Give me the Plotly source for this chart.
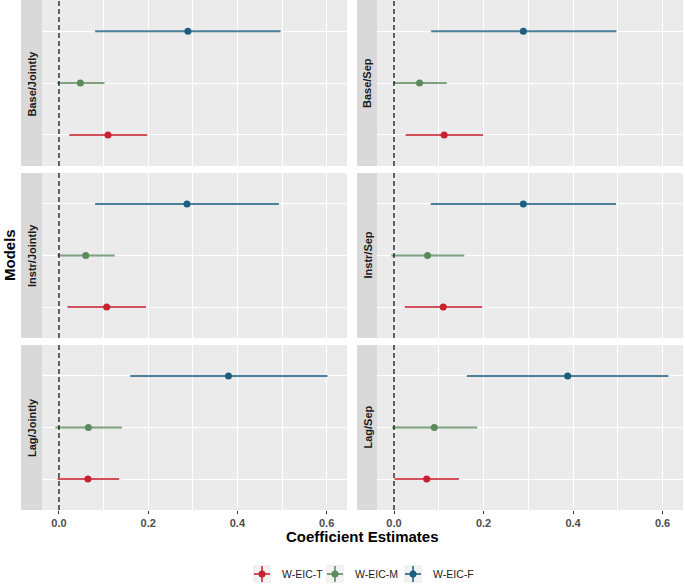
import plotly.graph_objects as go

# ---------------- data ----------------
panels = ["Base/Jointly", "Base/Sep", "Instr/Jointly", "Instr/Sep", "Lag/Jointly", "Lag/Sep"]
series = ["W-EIC-T", "W-EIC-M", "W-EIC-F"]
series_level = [1, 2, 3]

est_T = [0.110, 0.112, 0.107, 0.110, 0.065, 0.073]
lo_T = [0.023, 0.026, 0.019, 0.024, -0.003, 0.001]
hi_T = [0.198, 0.199, 0.195, 0.197, 0.135, 0.145]

est_M = [0.048, 0.057, 0.060, 0.075, 0.066, 0.090]
lo_M = [-0.004, -0.002, -0.003, -0.006, -0.008, -0.004]
hi_M = [0.102, 0.118, 0.125, 0.157, 0.141, 0.186]

est_F = [0.289, 0.289, 0.287, 0.289, 0.380, 0.388]
lo_F = [0.081, 0.083, 0.081, 0.082, 0.160, 0.163]
hi_F = [0.497, 0.497, 0.493, 0.496, 0.602, 0.613]

x_ticks = [0.0, 0.2, 0.4, 0.6]
x_tick_labels = ["0.0", "0.2", "0.4", "0.6"]

# ---------------- style ----------------
W, H = 685, 586
colors = ["#C8202F", "#5B8A5B", "#1B5E82"]
line_colors = ["rgba(200,32,47,0.78)", "rgba(91,138,91,0.78)", "rgba(27,94,130,0.78)"]
FONT = "Liberation Sans, Arial, sans-serif"

est_all = [est_T, est_M, est_F]
lo_all = [lo_T, lo_M, lo_F]
hi_all = [hi_T, hi_M, hi_F]

col_px = [(42, 347), (377, 683)]
strip_px = [(21, 42), (357, 377)]
row_px = [(0, 166), (173, 338), (345, 510)]

def px_x(p):
    return p / W

def px_y(p):
    return 1 - p / H

fig = go.Figure()
shapes = []
annotations = []

for i, name in enumerate(panels):
    r, c = divmod(i, 2)
    k = i + 1
    xa = "x" if k == 1 else f"x{k}"
    ya = "y" if k == 1 else f"y{k}"
    xaxis_key = "xaxis" if k == 1 else f"xaxis{k}"
    yaxis_key = "yaxis" if k == 1 else f"yaxis{k}"

    fig.update_layout({
        xaxis_key: dict(
            domain=[px_x(col_px[c][0]), px_x(col_px[c][1])],
            anchor=ya,
            range=[-0.038, 0.6457],
            tickvals=x_ticks,
            ticktext=x_tick_labels,
            showticklabels=(r == 2),
            ticks="outside" if r == 2 else "",
            ticklen=3, tickcolor="#333333", tickwidth=1,
            tickfont=dict(family=FONT, size=11, color="#4D4D4D", weight="bold"),
            showgrid=True, gridcolor="white", gridwidth=1.1,
            minor=dict(dtick=0.1, tick0=0, showgrid=True, gridcolor="white", gridwidth=0.5),
            zeroline=False, showline=False, fixedrange=True,
        ),
        yaxis_key: dict(
            domain=[px_y(row_px[r][1]), px_y(row_px[r][0])],
            anchor=xa,
            range=[0.4, 3.6],
            tickvals=series_level,
            showticklabels=False,
            showgrid=True, gridcolor="white", gridwidth=1.1,
            zeroline=False, showline=False, fixedrange=True,
        ),
    })

    # panel background
    shapes.append(dict(type="rect", xref=f"{xa} domain", yref=f"{ya} domain",
                       x0=0, x1=1, y0=0, y1=1, fillcolor="#EBEBEB",
                       line=dict(width=0), layer="below"))
    # dashed zero line
    shapes.append(dict(type="line", xref=xa, yref=f"{ya} domain",
                       x0=0, x1=0, y0=0, y1=1,
                       line=dict(color="black", width=1.2, dash="5px,3px"), layer="above"))
    # strip
    shapes.append(dict(type="rect", xref="paper", yref="paper",
                       x0=px_x(strip_px[c][0]), x1=px_x(strip_px[c][1]),
                       y0=px_y(row_px[r][1]), y1=px_y(row_px[r][0]),
                       fillcolor="#D9D9D9", line=dict(width=0)))
    annotations.append(dict(text=f"<b>{name}</b>", xref="paper", yref="paper",
                            x=px_x((strip_px[c][0] + strip_px[c][1]) / 2),
                            y=px_y((row_px[r][0] + row_px[r][1]) / 2),
                            textangle=-90, showarrow=False,
                            font=dict(family=FONT, size=11, color="#1A1A1A"),
                            xanchor="center", yanchor="middle"))

    for s in range(3):
        e = est_all[s][i]
        fig.add_trace(go.Scatter(
            x=[e], y=[series_level[s]], xaxis=xa, yaxis=ya,
            mode="markers",
            marker=dict(color=colors[s], size=7, line=dict(width=0)),
            error_x=dict(type="data", symmetric=False,
                         array=[hi_all[s][i] - e], arrayminus=[e - lo_all[s][i]],
                         color=line_colors[s], thickness=2, width=0),
            showlegend=False, name=series[s], hoverinfo="skip",
        ))

# axis titles
annotations.append(dict(text="<b>Coefficient Estimates</b>", xref="paper", yref="paper",
                        x=px_x(362), y=px_y(536), showarrow=False,
                        font=dict(family=FONT, size=15, color="black"),
                        xanchor="center", yanchor="middle"))
annotations.append(dict(text="<b>Models</b>", xref="paper", yref="paper",
                        x=px_x(10), y=px_y(255), textangle=-90, showarrow=False,
                        font=dict(family=FONT, size=15, color="black"),
                        xanchor="center", yanchor="middle"))

# custom legend (pointrange keys)
key_left = [253, 326, 404]
key_size = 18
key_cy = 574
for s in range(3):
    x0 = key_left[s]
    cx = x0 + key_size / 2
    shapes.append(dict(type="rect", xref="paper", yref="paper",
                       x0=px_x(x0), x1=px_x(x0 + key_size),
                       y0=px_y(key_cy + key_size / 2), y1=px_y(key_cy - key_size / 2),
                       fillcolor="#F2F2F2", line=dict(width=0)))
    shapes.append(dict(type="line", xref="paper", yref="paper",
                       x0=px_x(x0 + 1), x1=px_x(x0 + key_size - 1),
                       y0=px_y(key_cy), y1=px_y(key_cy),
                       line=dict(color=line_colors[s], width=2)))
    shapes.append(dict(type="line", xref="paper", yref="paper",
                       x0=px_x(cx), x1=px_x(cx),
                       y0=px_y(key_cy + key_size / 2 - 1), y1=px_y(key_cy - key_size / 2 + 1),
                       line=dict(color=line_colors[s], width=2)))
    shapes.append(dict(type="circle", xref="paper", yref="paper",
                       x0=px_x(cx - 3.5), x1=px_x(cx + 3.5),
                       y0=px_y(key_cy + 3.5), y1=px_y(key_cy - 3.5),
                       fillcolor=colors[s], line=dict(width=0)))
    annotations.append(dict(text=series[s], xref="paper", yref="paper",
                            x=px_x(x0 + key_size + 9), y=px_y(key_cy),
                            showarrow=False, xanchor="left", yanchor="middle",
                            font=dict(family=FONT, size=10.5, color="#1A1A1A")))

fig.update_layout(
    width=W, height=H,
    margin=dict(l=0, r=0, t=0, b=0, autoexpand=False),
    paper_bgcolor="white", plot_bgcolor="rgba(0,0,0,0)",
    shapes=shapes, annotations=annotations,
    showlegend=False,
    font=dict(family=FONT),
)

fig.write_html("out.html", config={"displayModeBar": False},
               post_script="document.body.style.margin='0px';document.body.style.padding='0px';")
